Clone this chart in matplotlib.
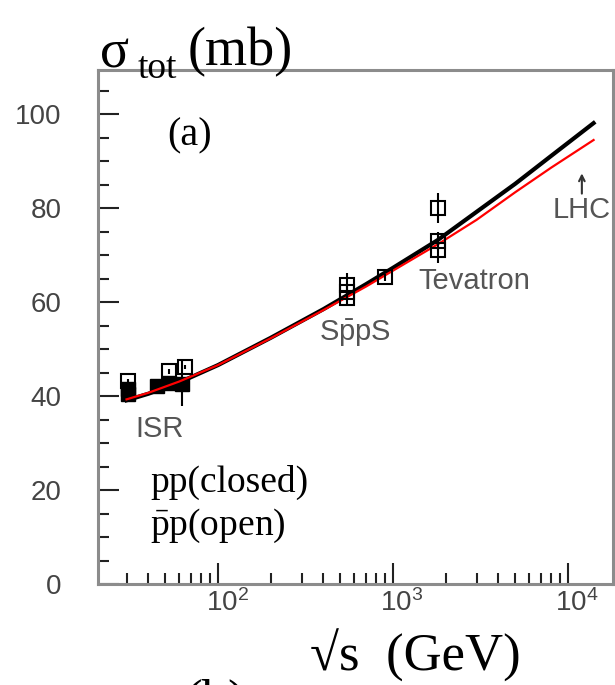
import matplotlib
matplotlib.use('Agg')
import matplotlib.pyplot as plt
import matplotlib.transforms as mtransforms
from matplotlib.ticker import LogLocator, MultipleLocator, NullFormatter

plt.rcParams['font.family'] = ['Liberation Sans', 'DejaVu Sans']
plt.rcParams['mathtext.fontset'] = 'custom'
plt.rcParams['mathtext.rm'] = 'Liberation Serif'
plt.rcParams['mathtext.sf'] = 'Liberation Sans'
plt.rcParams['mathtext.it'] = 'Liberation Serif:italic'

#------------------------------------------------------------------#
# data
# pp (closed squares)
pp_e   = [30.6, 30.6, 44.7, 52.8, 62.5]
pp_sig = [40.4, 41.6, 42.1, 42.8, 42.6]
pp_err = [0.5, 0.5, 0.5, 0.5, 4.8]

# pbar-p (open squares)
pbp_e   = [30.6, 52.8, 65.0, 546, 546, 546, 900, 1800, 1800, 1800]
pbp_sig = [43.2, 45.3, 46.2, 63.6, 62.2, 60.8, 65.3, 80.0, 73.0, 71.0]
pbp_err = [0.5, 0.5, 0.5, 2.5, 1.5, 1.5, 0.7, 3.2, 2.0, 2.6]

# fitted curves
fit_e     = [30, 40, 60, 100, 200, 400, 700, 1000, 1800, 3000, 5000, 8000, 14000]
fit_black = [39.1, 40.5, 42.9, 46.6, 52.4, 58.5, 63.8, 67.3, 73.2, 79.2, 85.2, 91.1, 98.1]
fit_red   = [39.3, 40.7, 43.1, 46.6, 52.3, 58.3, 63.3, 66.7, 72.3, 77.5, 83.4, 88.6, 94.5]

# labels
lab_txt = ['ISR', r'$\mathsf{S\bar{p}pS}$', 'Tevatron', 'LHC']
lab_e   = [46.6, 607, 2900, 12000]
lab_sig = [33.0, 53.4, 64.6, 79.6]

xticks_major = [1e2, 1e3, 1e4]
xtick_labels = [r'$\mathsf{10^{2}}$', r'$\mathsf{10^{3}}$', r'$\mathsf{10^{4}}$']

#------------------------------------------------------------------#
fig = plt.figure(figsize=(6.15, 6.85), dpi=100)
ax = fig.add_axes([0.1593, 0.1474, 0.8374, 0.7504])

ax.plot(fit_e, fit_black, c='k', lw=3.0, zorder=3)
ax.plot(fit_e, fit_red, c='#ff0000', lw=1.6, zorder=4)

ax.errorbar(pp_e, pp_sig, yerr=pp_err, fmt='s', ms=10, mfc='k', mec='k',
            ecolor='k', elinewidth=1.5, capsize=0, zorder=2)
ax.errorbar(pbp_e, pbp_sig, yerr=pbp_err, fmt='s', ms=10, mfc='none', mec='k',
            mew=1.5, ecolor='k', elinewidth=1.5, capsize=0, zorder=5)

for t, e, s in zip(lab_txt, lab_e, lab_sig):
    ax.text(e, s, t, ha='center', va='center', fontsize=21, color='#555555')
ax.annotate('', xy=(12000, 88.0), xytext=(12000, 82.5),
            arrowprops=dict(arrowstyle='->', color='#333333', lw=1.5))

ax.set_xscale('log')
ax.set_xlim(20.6, 18070)
ax.set_ylim(0, 109.4)

ax.yaxis.set_major_locator(MultipleLocator(20))
ax.yaxis.set_minor_locator(MultipleLocator(5))
ax.set_xticks(xticks_major)
ax.set_xticklabels(xtick_labels)
ax.xaxis.set_minor_locator(LogLocator(base=10, subs=range(2, 10)))
ax.xaxis.set_minor_formatter(NullFormatter())

ax.tick_params(which='major', direction='in', length=15, width=1.5, color='#222222',
               labelsize=20, labelcolor='#444444', top=False, right=False)
ax.tick_params(which='minor', direction='in', length=8, width=1.5, color='#222222',
               top=False, right=False)
ax.tick_params(axis='y', which='major', pad=26)
ax.tick_params(axis='x', which='major', pad=4)
for sp in ax.spines.values():
    sp.set_color('#8c8c8c')
    sp.set_linewidth(2.2)

# shift x tick labels a bit to the right like the original
offset = mtransforms.ScaledTranslation(9 / 100, 0, fig.dpi_scale_trans)
for lbl in ax.get_xticklabels():
    lbl.set_transform(lbl.get_transform() + offset)

# texts
ax.text(0.134, 0.854, '(a)', transform=ax.transAxes, fontsize=29,
        family='Liberation Serif', va='baseline')
ax.text(0.101, 0.179, 'pp(closed)', transform=ax.transAxes, fontsize=27,
        family='Liberation Serif', va='baseline')
ax.text(0.101, 0.095, r'$\mathrm{\bar{p}p(open)}$', transform=ax.transAxes, fontsize=27,
        va='baseline')

fig.text(100 / 615, 1 - 67 / 685, 'σ', fontsize=39, family='Liberation Serif', va='baseline')
fig.text(138 / 615, 1 - 78 / 685, 'tot', fontsize=27, family='Liberation Serif', va='baseline')
fig.text(188 / 615, 1 - 65 / 685, '(mb)', fontsize=39, family='Liberation Serif', va='baseline')
fig.text(415 / 615, 1 - 671 / 685, '√s  (GeV)', fontsize=38,
         family=['Liberation Serif', 'DejaVu Serif'], ha='center', va='baseline')
# top of the next panel's label, cut by the lower edge as in the original
fig.text(215 / 615, 1 - 716 / 685, '(b)', fontsize=38, family='Liberation Serif',
         ha='center', va='baseline')

fig.savefig('out.png', dpi=100)
